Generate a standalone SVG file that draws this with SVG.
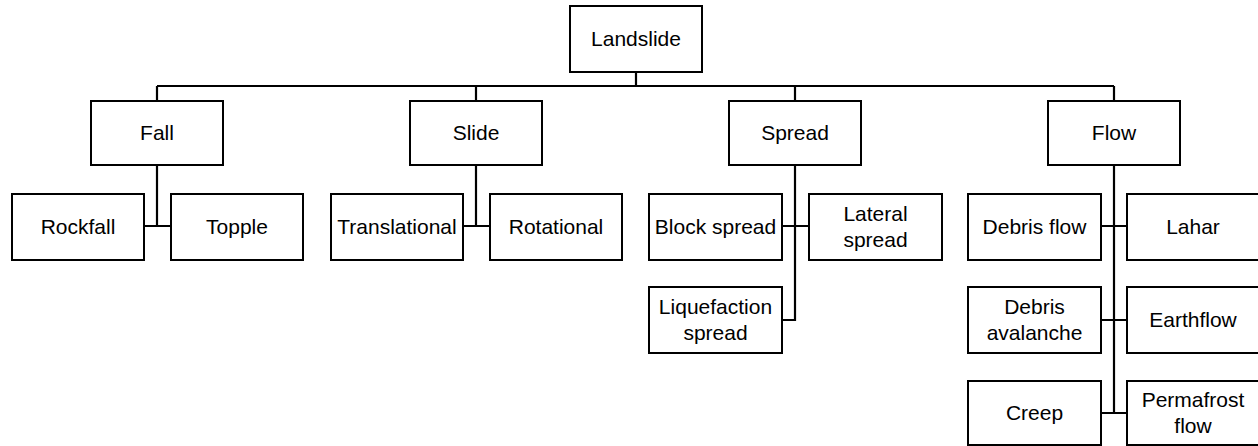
<svg xmlns="http://www.w3.org/2000/svg" width="1258" height="446" viewBox="0 0 1258 446">
<style>
.box{fill:#fff;stroke:#000;stroke-width:2}
.c{fill:none;stroke:#000;stroke-width:2.2}
text{font-family:"Liberation Sans",Arial,sans-serif;font-size:21px;fill:#000;text-anchor:middle}
</style>
<rect width="1258" height="446" fill="#fff"/>
<g id="connectors">
<path class="c" d="M636,72V86M157,86H1114M157,86V101M476,86V101M795,86V101M1114,86V101"/>
<path class="c" d="M157,165V226M144,226H171"/>
<path class="c" d="M476,165V226M463,226H490"/>
<path class="c" d="M795,165V320H782M782,226H809"/>
<path class="c" d="M1114,165V413M1101,226H1127M1101,320H1127M1101,413H1127"/>
</g>
<g id="landslide"><rect class="box" x="570" y="6" width="132" height="66"/><text x="636" y="46">Landslide</text></g>
<g id="fall"><rect class="box" x="91" y="101" width="132" height="64"/><text x="157" y="140">Fall</text></g>
<g id="slide"><rect class="box" x="410" y="101" width="132" height="64"/><text x="476" y="140">Slide</text></g>
<g id="spread"><rect class="box" x="729" y="101" width="132" height="64"/><text x="795" y="140">Spread</text></g>
<g id="flow"><rect class="box" x="1048" y="101" width="132" height="64"/><text x="1114" y="140">Flow</text></g>
<g id="rockfall"><rect class="box" x="12" y="194" width="132" height="66"/><text x="78" y="234">Rockfall</text></g>
<g id="topple"><rect class="box" x="171" y="194" width="132" height="66"/><text x="237" y="234">Topple</text></g>
<g id="translational"><rect class="box" x="331" y="194" width="132" height="66"/><text x="397" y="234">Translational</text></g>
<g id="rotational"><rect class="box" x="490" y="194" width="132" height="66"/><text x="556" y="234">Rotational</text></g>
<g id="block-spread"><rect class="box" x="649" y="194" width="133" height="66"/><text x="715.5" y="234">Block spread</text></g>
<g id="lateral-spread"><rect class="box" x="809" y="194" width="133" height="66"/><text x="875.5" y="221">Lateral</text><text x="875.5" y="247">spread</text></g>
<g id="liquefaction-spread"><rect class="box" x="649" y="287" width="133" height="66"/><text x="715.5" y="314">Liquefaction</text><text x="715.5" y="340">spread</text></g>
<g id="debris-flow"><rect class="box" x="968" y="194" width="133" height="66"/><text x="1034.5" y="234">Debris flow</text></g>
<g id="lahar"><rect class="box" x="1127" y="194" width="140" height="66"/><text x="1193" y="234">Lahar</text></g>
<g id="debris-avalanche"><rect class="box" x="968" y="287" width="133" height="66"/><text x="1034.5" y="314">Debris</text><text x="1034.5" y="340">avalanche</text></g>
<g id="earthflow"><rect class="box" x="1127" y="287" width="140" height="66"/><text x="1193" y="327">Earthflow</text></g>
<g id="creep"><rect class="box" x="968" y="381" width="133" height="64"/><text x="1034.5" y="420">Creep</text></g>
<g id="permafrost-flow"><rect class="box" x="1127" y="381" width="140" height="64"/><text x="1193" y="407">Permafrost</text><text x="1193" y="433">flow</text></g>
</svg>
